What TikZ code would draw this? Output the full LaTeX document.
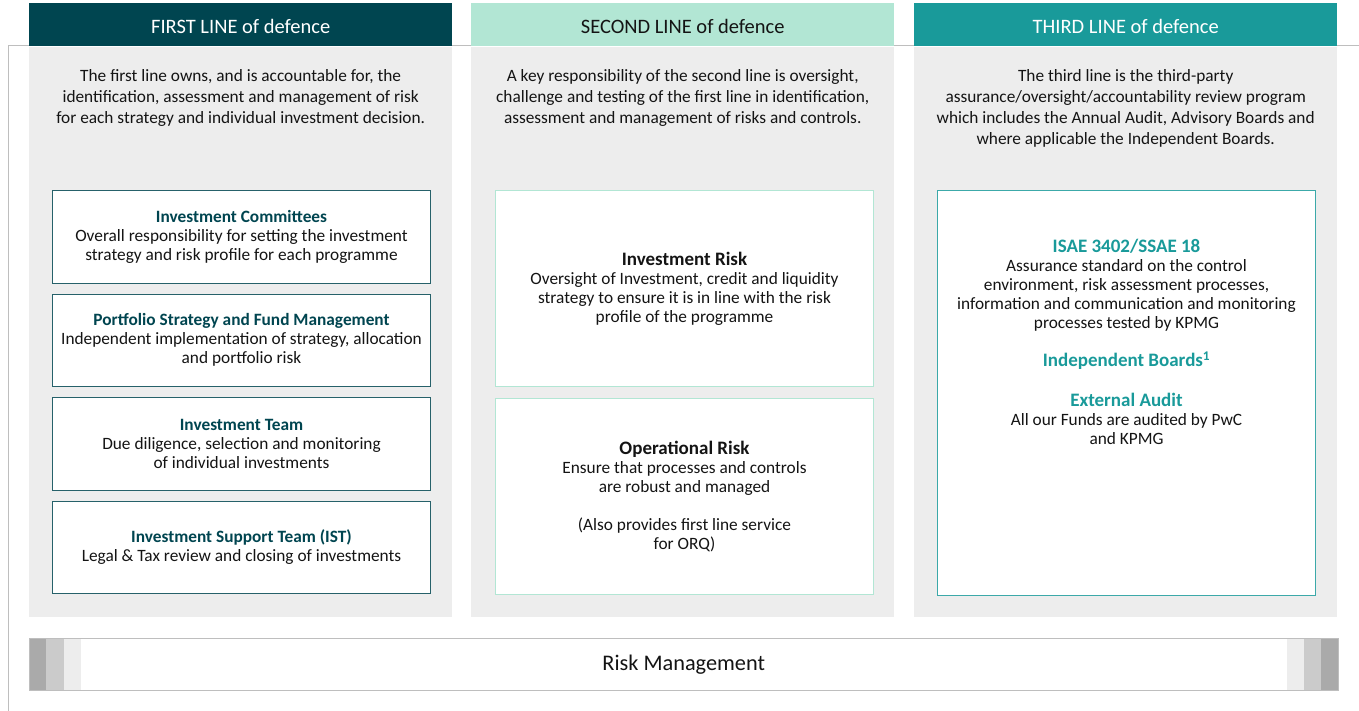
\documentclass[tikz,border=0pt]{standalone}
\usepackage{fontspec}
\setmainfont{Carlito}
\usetikzlibrary{positioning}

\definecolor{darkteal}{RGB}{0,69,80}
\definecolor{mint}{RGB}{178,230,212}
\definecolor{tealc}{RGB}{25,154,154}
\definecolor{panelgrey}{RGB}{237,237,237}
\definecolor{framegrey}{RGB}{190,190,190}
\definecolor{txt}{RGB}{20,20,20}
\definecolor{rmdark}{RGB}{170,170,170}
\definecolor{rmmid}{RGB}{203,203,203}
\definecolor{rmlight}{RGB}{237,237,237}

\newcommand{\boxtitle}[2]{{\bfseries\color{#1}#2}}
\newcommand{\bigtitle}[2]{{\fontsize{19}{19}\selectfont\bfseries\color{#1}#2}}

\tikzset{
    head/.style={anchor=north west, minimum width=423pt, minimum height=43pt, inner sep=0pt,
        text height=16.8pt, text depth=0pt, font=\fontsize{20.5}{22}\selectfont},
    panel/.style={fill=panelgrey, minimum width=423pt, minimum height=570pt, inner sep=0pt},
    intro/.style={align=center, inner sep=0pt, text=txt, font=\fontsize{17.3}{21}\selectfont},
    box/.style={fill=white, line width=1pt, minimum width=378pt, inner sep=0pt, align=center,
        text=txt, font=\fontsize{17.3}{19}\selectfont},
    box1/.style={box, draw=darkteal!85, minimum height=92.5pt},
    box2/.style={box, draw=mint, minimum height=196pt},
    box3/.style={box, draw=tealc!85},
}

\begin{document}
\begin{tikzpicture}[x=1pt,y=1pt]
    \useasboundingbox (0,0) rectangle (1359,-711);
    \draw[framegrey, line width=1pt] (1359,-46) -- (8,-46) -- (8,-711);
    %
    % headers and panels
    \node[head, fill=darkteal, text=white] (h1) at (29,-3)  {FIRST LINE of defence};
    \node[head, fill=mint, text=txt]       (h2) at (471,-3) {SECOND LINE of defence};
    \node[head, fill=tealc, text=white]    (h3) at (914,-3) {THIRD LINE of defence};
    \node[panel, below=0pt of h1] (p1) {};
    \node[panel, below=0pt of h2] (p2) {};
    \node[panel, below=0pt of h3] (p3) {};
    %
    \node[intro, below=23pt of h1] (t1) {The first line owns, and is accountable for, the\\
        identification, assessment and management of risk\\
        for each strategy and individual investment decision.};
    \node[intro, below=23pt of h2] (t2) {A key responsibility of the second line is oversight,\\
        challenge and testing of the first line in identification,\\
        assessment and management of risks and controls.};
    \node[intro, below=23pt of h3] (t3) {The third line is the third-party\\
        assurance/oversight/accountability review program\\
        which includes the Annual Audit, Advisory Boards and\\
        where applicable the Independent Boards.};
    %
    % first line
    \node[box1, anchor=north west] (ic) at (52,-190) {\boxtitle{darkteal}{Investment Committees}\\
        Overall responsibility for setting the investment\\ strategy and risk profile for each programme};
    \node[box1, below=10pt of ic] (pf) {\boxtitle{darkteal}{Portfolio Strategy and Fund Management}\\
        Independent implementation of strategy, allocation\\ and portfolio risk};
    \node[box1, below=10pt of pf] (it) {\boxtitle{darkteal}{Investment Team}\\
        Due diligence, selection and monitoring\\ of individual investments};
    \node[box1, below=10pt of it] (ist) {\boxtitle{darkteal}{Investment Support Team (IST)}\\
        Legal \& Tax review and closing of investments};
    %
    % second line
    \node[box2, anchor=north west] (ir) at (495,-190) {\bigtitle{txt}{Investment Risk}\\
        Oversight of Investment, credit and liquidity\\ strategy to ensure it is in line with the risk\\
        profile of the programme};
    \node[box2, below=11pt of ir] (opr) {\bigtitle{txt}{Operational Risk}\\
        Ensure that processes and controls\\ are robust and managed\\[19pt]
        (Also provides first line service\\ for ORQ)};
    %
    % third line
    \node[box3, minimum height=405pt, anchor=north west] (tl) at (937,-190) {};
    \node[box, fill=none, below=48.5pt of tl.north] (isae) {\bigtitle{tealc}{ISAE 3402/SSAE 18}\\
        Assurance standard on the control\\ environment, risk assessment processes,\\
        information and communication and monitoring\\ processes tested by KPMG\\[19pt]
        \bigtitle{tealc}{Independent Boards\textsuperscript{1}}\\[21pt]
        \bigtitle{tealc}{External Audit}\\
        All our Funds are audited by PwC\\ and KPMG};
    %
    % risk management bar
    \node[fill=white, minimum width=1309pt, minimum height=52pt, inner sep=0pt, anchor=north west,
        text=txt, font=\fontsize{22.3}{24}\selectfont] (rm) at (29,-638) {Risk Management};
    \foreach \c [count=\i from 0] in {rmdark,rmmid,rmlight} {
        \fill[\c] ([xshift={\i*17.3pt}]rm.north west) rectangle ++(17.3,-52);
        \fill[\c] ([xshift={-\i*17.3pt-17.3pt}]rm.north east) rectangle ++(17.3,-52);
    }
    \draw[framegrey, line width=1pt] (rm.north west) rectangle (rm.south east);
\end{tikzpicture}
\end{document}
